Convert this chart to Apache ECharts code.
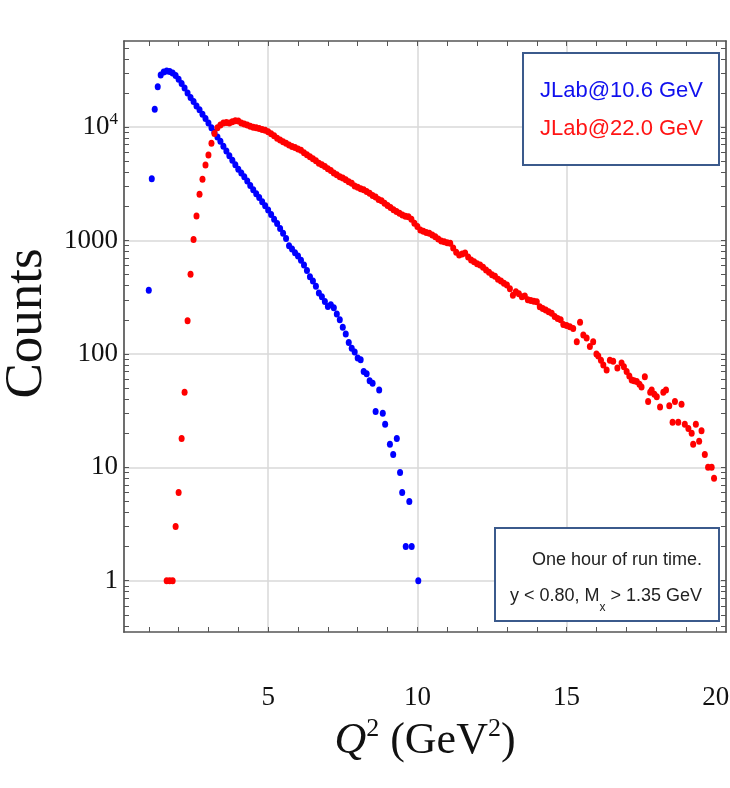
<!DOCTYPE html>
<html>
<head>
<meta charset="utf-8">
<script src="https://cdn.jsdelivr.net/npm/echarts@6/dist/echarts.min.js"></script>
<style>html,body{margin:0;padding:0;background:#fff}#c{width:730px;height:788px}</style>
</head>
<body>
<div id="c"></div>
<script>
// ---- data ----
const seriesNames = ['JLab@10.6 GeV', 'JLab@22.0 GeV'];

const blueQ2 = [1.0,1.1,1.2,1.3,1.4,1.5,1.6,1.7,1.8,1.9,
  2.0,2.1,2.2,2.3,2.4,2.5,2.6,2.7,2.8,2.9,
  3.0,3.1,3.2,3.3,3.4,3.5,3.6,3.7,3.8,3.9,
  4.0,4.1,4.2,4.3,4.4,4.5,4.6,4.7,4.8,4.9,
  5.0,5.1,5.2,5.3,5.4,5.5,5.6,5.7,5.8,5.9,
  6.0,6.1,6.2,6.3,6.4,6.5,6.6,6.7,6.8,6.9,
  7.0,7.1,7.2,7.3,7.4,7.5,7.6,7.7,7.8,7.9,
  8.0,8.1,8.2,8.3,8.4,8.5,8.60,8.72,8.84,8.92,
  9.08,9.19,9.31,9.42,9.49,9.61,9.73,9.81,10.03];
const blueCounts = [365,3500,14400,22700,28800,30600,31200,31000,30100,28600,
  26500,24200,22100,20000,18300,16800,15400,14200,13000,11900,
  10900,9900,9000,8200,7500,6800,6150,5600,5100,4650,
  4250,3950,3650,3350,3050,2800,2580,2400,2200,2030,
  1860,1700,1540,1410,1280,1160,1040,900,840,780,
  730,670,610,545,480,440,395,345,320,290,
  262,272,255,225,200,172,150,126,112,104,
  92,89,70,67,58,55,31,48,30,24,
  16,13,18,9,6,2,5,2,1];

const redQ2 = [1.6,1.7,1.8,1.9,
  2.0,2.1,2.2,2.3,2.4,2.5,2.6,2.7,2.8,2.9,
  3.0,3.1,3.2,3.3,3.4,3.5,3.6,3.7,3.8,3.9,
  4.0,4.1,4.2,4.3,4.4,4.5,4.6,4.7,4.8,4.9,
  5.0,5.1,5.2,5.3,5.4,5.5,5.6,5.7,5.8,5.9,
  6.0,6.1,6.2,6.3,6.4,6.5,6.6,6.7,6.8,6.9,
  7.0,7.1,7.2,7.3,7.4,7.5,7.6,7.7,7.8,7.9,
  8.0,8.1,8.2,8.3,8.4,8.5,8.6,8.7,8.8,8.9,
  9.0,9.1,9.2,9.3,9.4,9.5,9.6,9.7,9.8,9.9,
  10.0,10.1,10.2,10.3,10.4,10.5,10.6,10.7,10.8,10.9,
  11.0,11.1,11.2,11.3,11.4,11.5,11.6,11.7,11.8,11.9,
  12.0,12.1,12.2,12.3,12.4,12.5,12.6,12.7,12.8,12.9,
  13.0,13.1,13.2,13.3,13.4,13.5,13.6,13.7,13.8,13.9,
  14.0,14.1,14.2,14.3,14.4,14.5,14.6,14.7,14.8,14.89,
  15.0,15.11,15.22,15.34,15.45,15.56,15.67,15.78,15.89,16.0,
  16.06,16.15,16.23,16.34,16.45,16.56,16.70,16.84,16.92,17.01,
  17.10,17.18,17.26,17.35,17.44,17.51,17.62,17.73,17.80,17.85,
  17.94,18.02,18.13,18.24,18.33,18.44,18.55,18.63,18.74,18.85,
  18.96,19.08,19.19,19.24,19.33,19.44,19.52,19.63,19.74,19.86,19.94];
const redCounts = [1,1,1,3,
  6,18,46,196,505,1020,1650,2560,3470,4630,
  5680,7200,8800,9900,10450,10900,11000,10900,11170,11400,
  11300,10900,10650,10450,10200,10000,9900,9750,9550,9400,
  9100,8750,8400,8000,7700,7450,7200,6950,6750,6600,
  6400,6250,5950,5700,5480,5250,5050,4800,4650,4500,
  4300,4150,3950,3800,3650,3560,3430,3300,3200,3030,
  2950,2860,2800,2700,2610,2500,2420,2300,2240,2130,
  2040,1960,1870,1800,1740,1680,1640,1620,1540,1420,
  1330,1240,1210,1180,1160,1120,1080,1030,990,975,
  955,945,860,790,745,760,775,715,673,650,
  625,608,580,550,525,500,485,455,440,420,
  405,375,330,354,340,319,325,300,296,292,
  288,261,252,244,236,228,214,205,200,182,
  178,174,168,128,190,147,138,116,128,100,
  96,88,80,72,88,86,75,83,77,70,
  64,59,58,57,54,51,63,38,46,48,
  44,42,34,46,48,35,25,38,25,36,
  24,22,20,16,24,17,21,13,10,10,8];

// axis ticks / labels
const xTickValues = [1,2,3,4,5,6,7,8,9,10,11,12,13,14,15,16,17,18,19,20];
const xLabelValues = [5,10,15,20];
const yLabelValues = [1,10,100,1000,10000];
const yTickValues = [0.4,0.5,0.6,0.7,0.8,0.9,
  1,2,3,4,5,6,7,8,9,
  10,20,30,40,50,60,70,80,90,
  100,200,300,400,500,600,700,800,900,
  1000,2000,3000,4000,5000,6000,7000,8000,9000,
  10000,20000,30000,40000,50000];

const X_MIN = 0.17, X_MAX = 20.34;
const Y_MIN = 0.353, Y_MAX = 57500;

const pairs = (xs, ys) => xs.map((x, i) => [x, ys[i]]);

function hasFont(name) {
  const ctx = document.createElement('canvas').getContext('2d');
  const t = 'JLab@10.6 GeV mmmWWiil';
  ctx.font = '40px monospace';
  const a = ctx.measureText(t).width;
  ctx.font = '40px "' + name + '", monospace';
  const b = ctx.measureText(t).width;
  return Math.abs(a - b) > 0.5;
}
const NARROW = hasFont('Liberation Sans Narrow');

const FRAME = '#555555';
const GRIDC = '#d9d9d9';
const SERIF = '"Liberation Serif", "DejaVu Serif", serif';
const SANS = NARROW ? '"Liberation Sans Narrow", "Liberation Sans", sans-serif' : '"Liberation Sans", Arial, sans-serif';
const LEGEND_FS = NARROW ? 26 : 22;
const NOTE_FS = NARROW ? 21 : 18;

const frameLine = { show: true, lineStyle: { color: FRAME, width: 1.7 } };
const tickStyle = (vals) => ({ show: true, inside: true, length: 5, customValues: vals, lineStyle: { color: FRAME, width: 1 } });

const chart = echarts.init(document.getElementById('c'), null, { renderer: 'canvas' });
chart.setOption({
  animation: false,
  backgroundColor: '#ffffff',
  grid: { left: 124, right: 4, top: 41, bottom: 156, containLabel: false, outerBoundsMode: 'none' },
  legend: {
    orient: 'vertical', right: 11, top: 53,
    icon: 'none', itemWidth: 0, itemHeight: 22, itemGap: 16,
    padding: [27, 16, 25, 12],
    borderColor: '#3b5a8c', borderWidth: 2, backgroundColor: '#ffffff',
    selectedMode: false,
    textStyle: { fontFamily: SANS, fontSize: LEGEND_FS },
    data: [
      { name: seriesNames[0], textStyle: { color: '#1010ee' } },
      { name: seriesNames[1], textStyle: { color: '#ff1414' } }
    ]
  },
  title: {
    text: 'One hour of run time.\ny < 0.80, M{sub|x} > 1.35 GeV',
    left: 687, bottom: 167,
    textAlign: 'right',
    padding: [14, 17, 7, 15],
    borderColor: '#3b5a8c', borderWidth: 2, backgroundColor: '#ffffff',
    textStyle: {
      fontFamily: SANS, fontSize: NOTE_FS, fontWeight: 'normal', color: '#222', lineHeight: 36,
      rich: { sub: { fontFamily: SANS, fontSize: 12, color: '#222', lineHeight: 24, verticalAlign: 'bottom' } }
    }
  },
  xAxis: [
    {
      type: 'value', position: 'bottom', min: X_MIN, max: X_MAX,
      axisLine: frameLine, axisTick: tickStyle(xTickValues), minorTick: { show: false },
      splitLine: { show: false },
      axisLabel: { customValues: xLabelValues, margin: 52, fontFamily: SERIF, fontSize: 27, color: '#111' },
      name: '{q|Q}{s|2}{n| (GeV}{s|2}{n|)}', nameLocation: 'middle', nameGap: 82,
      nameTextStyle: {
        rich: {
          q: { fontFamily: SERIF, fontStyle: 'italic', fontSize: 44, color: '#111', lineHeight: 52 },
          n: { fontFamily: SERIF, fontSize: 44, color: '#111', lineHeight: 52 },
          s: { fontFamily: SERIF, fontSize: 26, color: '#111', lineHeight: 34, verticalAlign: 'top' }
        }
      }
    },
    {
      type: 'value', position: 'top', min: X_MIN, max: X_MAX,
      axisLine: frameLine, axisTick: tickStyle(xTickValues),
      axisLabel: { show: false }, splitLine: { show: false }
    },
    {
      type: 'value', position: 'bottom', min: X_MIN, max: X_MAX, splitNumber: 4,
      axisLine: { show: false }, axisTick: { show: false },
      axisLabel: { show: false },
      splitLine: { show: true, showMinLine: false, showMaxLine: false,
        lineStyle: { color: [GRIDC, GRIDC, GRIDC, 'rgba(0,0,0,0)'], width: 1.5 } }
    }
  ],
  yAxis: [
    {
      type: 'log', logBase: 10, position: 'left', min: Y_MIN, max: Y_MAX,
      axisLine: frameLine, axisTick: tickStyle(yTickValues),
      splitLine: { show: false },
      axisLabel: {
        customValues: yLabelValues, margin: 6, color: '#111',
        formatter: function (v) {
          const e = Math.round(Math.log10(v));
          return e >= 4 ? '{b|10}{sup|' + e + '}' : '{b|' + Math.round(Math.pow(10, e)) + '}';
        },
        rich: {
          b: { fontFamily: SERIF, fontSize: 27, color: '#111', lineHeight: 32 },
          sup: { fontFamily: SERIF, fontSize: 17, color: '#111', lineHeight: 20, verticalAlign: 'top' }
        }
      },
      name: 'Counts', nameLocation: 'middle', nameGap: 60,
      nameTextStyle: { fontFamily: SERIF, fontSize: 53, color: '#111', padding: [0, 0, 0, 26] }
    },
    {
      type: 'log', logBase: 10, position: 'right', min: Y_MIN, max: Y_MAX,
      axisLine: frameLine, axisTick: tickStyle(yTickValues),
      axisLabel: { show: false }, splitLine: { show: false }
    },
    {
      type: 'log', logBase: 10, position: 'left', min: Y_MIN, max: Y_MAX,
      axisLine: { show: false }, axisTick: { show: false },
      axisLabel: { show: false },
      splitLine: { show: true, showMinLine: false, showMaxLine: false, lineStyle: { color: GRIDC, width: 1.5 } }
    }
  ],
  series: [
    {
      name: seriesNames[0], type: 'scatter', xAxisIndex: 0, yAxisIndex: 0,
      symbol: 'circle', symbolSize: [6, 7], itemStyle: { color: '#0000ff', opacity: 1 },
      data: pairs(blueQ2, blueCounts), z: 3
    },
    {
      name: seriesNames[1], type: 'scatter', xAxisIndex: 0, yAxisIndex: 0,
      symbol: 'circle', symbolSize: [6, 7], itemStyle: { color: '#ff0000', opacity: 1 },
      data: pairs(redQ2, redCounts), z: 3
    }
  ]
});
</script>
</body>
</html>
